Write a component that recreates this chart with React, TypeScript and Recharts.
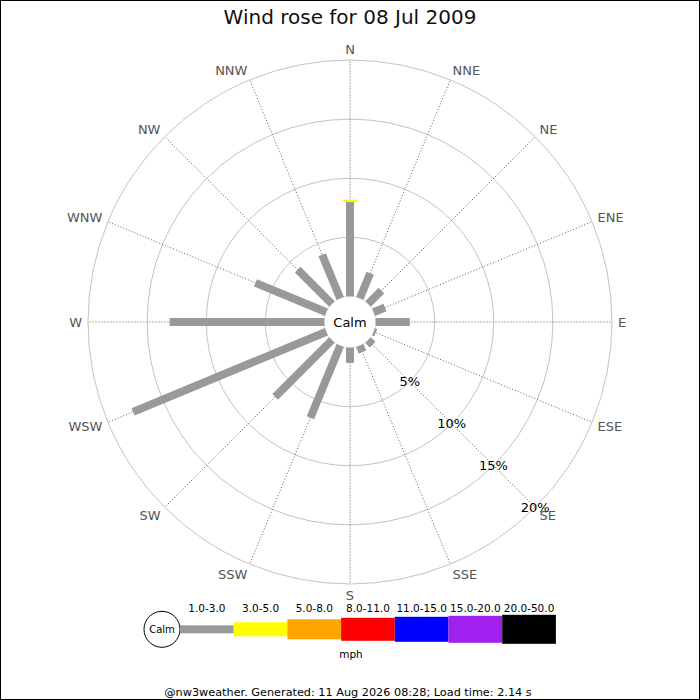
import React from 'react';
import { RadialBarChart, RadialBar, PolarGrid, PolarAngleAxis, PolarRadiusAxis } from 'recharts';

const directions = ['N', 'NNE', 'NE', 'ENE', 'E', 'ESE', 'SE', 'SSE', 'S', 'SSW', 'SW', 'WSW', 'W', 'WNW', 'NW', 'NNW'];
const speedBins = ['1.0-3.0', '3.0-5.0', '5.0-8.0', '8.0-11.0', '11.0-15.0', '15.0-20.0', '20.0-50.0'];

// % of the day from each direction, per speed bin (mph)
const bin1 = [8.0, 2.3, 1.6, 1.05, 2.9, 0.2, 0.55, 0.6, 1.3, 6.6, 6.8, 17.7, 13.1, 6.5, 4.1, 4.0];
const bin2 = [0.2, 0, 0, 0, 0, 0, 0, 0, 0, 0, 0, 0, 0, 0, 0, 0];
const bin3 = [0, 0, 0, 0, 0, 0, 0, 0, 0, 0, 0, 0, 0, 0, 0, 0];
const bin4 = [0, 0, 0, 0, 0, 0, 0, 0, 0, 0, 0, 0, 0, 0, 0, 0];
const bin5 = [0, 0, 0, 0, 0, 0, 0, 0, 0, 0, 0, 0, 0, 0, 0, 0];
const bin6 = [0, 0, 0, 0, 0, 0, 0, 0, 0, 0, 0, 0, 0, 0, 0, 0];
const bin7 = [0, 0, 0, 0, 0, 0, 0, 0, 0, 0, 0, 0, 0, 0, 0, 0];
const bins = [bin1, bin2, bin3, bin4, bin5, bin6, bin7];

const radiusDomain = [0, 20];

// styles
const binColors = ['#999999', '#ffff00', '#ffa500', '#ff0000', '#0000ff', '#a020f0', '#000000'];
const binWidths = [8, 14, 20, 23, 25, 27, 29];

const W = 700;
const H = 700;
const CX = 350;
const CY = 322;
const R_IN = 25.5;
const R_OUT = 262;
const FONT = '"DejaVu Sans", sans-serif';

const rows = directions.map((dir, i) => {
  const row: any = { dir };
  bins.forEach((b, k) => { row['b' + k] = b[i]; });
  return row;
});

// a straight stick of constant width along the category's axis angle.
// with barCategoryGap=0 the sector's startAngle is the category tick angle.
const stick = (w: number) => (props: any) => {
  const { cx, cy, innerRadius, outerRadius, startAngle, fill } = props;
  if (!(outerRadius - innerRadius > 0.01)) return <g />;
  const mid = (-startAngle * Math.PI) / 180;
  const ux = Math.cos(mid), uy = Math.sin(mid);
  const px = -uy * w / 2, py = ux * w / 2;
  const pt = (r: number, s: number) => `${cx + ux * r + s * px},${cy + uy * r + s * py}`;
  const pts = [pt(innerRadius, 1), pt(outerRadius, 1), pt(outerRadius, -1), pt(innerRadius, -1)].join(' ');
  return <polygon points={pts} fill={fill} />;
};

const DirTick = (props: any) => {
  const { x, y, payload } = props;
  const a = payload.coordinate * Math.PI / 180;
  const c = Math.cos(a), s = Math.sin(a);
  const anchor = c > 0.1 ? 'start' : c < -0.1 ? 'end' : 'middle';
  return (
    <text x={x} y={y + 4.75 * (1 - s)} textAnchor={anchor} fontSize={13} fill="#555" fontFamily={FONT}>
      {payload.value}
    </text>
  );
};

const PctTick = (props: any) => {
  const { x, y, payload } = props;
  if (payload.value === 0) return <g />;
  return (
    <text x={x} y={y + 4.5} textAnchor="middle" fontSize={13} fill="#000" fontFamily={FONT}>
      {payload.value}%
    </text>
  );
};

function Legend() {
  const x0 = 180;
  const segW = 53.7;
  const ly = 629.3;
  return (
    <g fontFamily={FONT} fontSize={10.5} fill="#000">
      <circle cx={162} cy={ly} r={18} fill="#fff" stroke="#000" strokeWidth={1} />
      <text x={162} y={ly + 3.5} textAnchor="middle" fontSize={10}>Calm</text>
      {speedBins.map((lab, k) => (
        <g key={lab}>
          <rect x={x0 + k * segW} y={ly - binWidths[k] / 2} width={segW} height={binWidths[k]} fill={binColors[k]} />
          <text x={x0 + k * segW + segW / 2} y={611.5} textAnchor="middle">{lab}</text>
        </g>
      ))}
      <text x={351} y={658} textAnchor="middle">mph</text>
    </g>
  );
}

export default function App() {
  return (
    <div style={{ position: 'absolute', left: 0, top: 0, width: W, height: H, background: '#fff' }}>
      <div style={{ position: 'absolute', left: 0, top: 0 }}>
        <RadialBarChart
          width={W}
          height={H}
          data={rows}
          layout="centric"
          cx={CX}
          cy={CY}
          innerRadius={R_IN}
          outerRadius={R_OUT}
          startAngle={90}
          endAngle={-270}
          barCategoryGap={0}
          margin={{ top: 0, right: 0, bottom: 0, left: 0 }}
        >
          <PolarGrid gridType="circle" radialLines={false} stroke="#b4b4b4" strokeWidth={0.8} />
          <PolarGrid gridType="circle" polarRadius={[]} stroke="#333" strokeWidth={0.8} strokeDasharray="1 2" />
          <PolarAngleAxis type="category" dataKey="dir" tickSize={6} tickLine={false} axisLine={false} tick={<DirTick />} />
          <PolarRadiusAxis type="number" domain={radiusDomain} tickCount={5} angle={-45} axisLine={false} tick={<PctTick />} />
          {speedBins.map((lab, k) => (
            <RadialBar
              key={lab}
              dataKey={'b' + k}
              stackId="speed"
              fill={binColors[k]}
              shape={stick(binWidths[k])}
              isAnimationActive={false}
            />
          ))}
        </RadialBarChart>
      </div>
      <svg width={W} height={H} style={{ position: 'absolute', left: 0, top: 0, pointerEvents: 'none' }}>
        <text x={350} y={24} textAnchor="middle" fontSize={20} fontFamily={FONT} fill="#111">
          Wind rose for 08 Jul 2009
        </text>
        <circle cx={CX} cy={CY} r={R_IN} fill="#fff" />
        <text x={CX} y={CY + 4.5} textAnchor="middle" fontSize={13} fontFamily={FONT} fill="#000">Calm</text>
        <Legend />
        <text x={348} y={696} textAnchor="middle" fontSize={11.25} fontFamily={FONT} fill="#000">
          @nw3weather. Generated: 11 Aug 2026 08:28; Load time: 2.14 s
        </text>
      </svg>
      <div style={{ position: 'absolute', left: 0, top: 0, width: W, height: H, border: '1px solid #000', boxSizing: 'border-box' }} />
    </div>
  );
}
